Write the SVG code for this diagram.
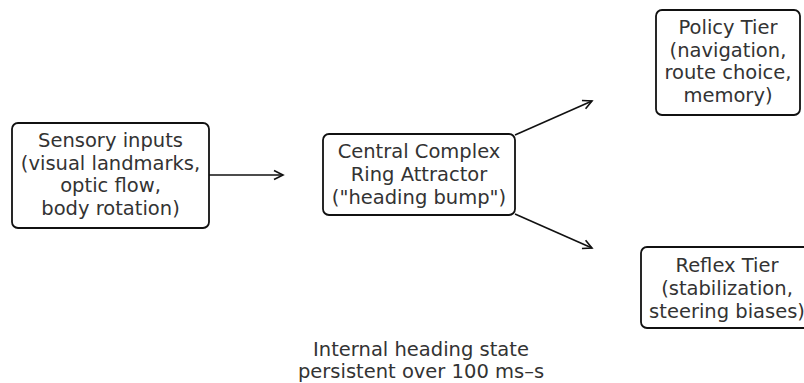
<svg xmlns="http://www.w3.org/2000/svg" width="804" height="383" viewBox="0 0 804 383">
<style>
.box{fill:#fff;stroke:#111;stroke-width:1.8}
.t{font-family:"DejaVu Sans",sans-serif;font-size:19.5px;fill:#333;text-anchor:middle}
.c{stroke:#111;stroke-width:1.6;fill:none}
</style>
<defs>
<marker id="ah" markerWidth="12" markerHeight="12" refX="10" refY="6" orient="auto" markerUnits="userSpaceOnUse">
<path d="M1,1.5 L10,6 L1,10.5" fill="none" stroke="#111" stroke-width="1.6"/>
</marker>
</defs>
<rect width="804" height="383" fill="#fff"/>
<g id="connectors">
<line class="c" x1="209" y1="175" x2="283" y2="175" marker-end="url(#ah)"/>
<line class="c" x1="515" y1="135" x2="592" y2="101" marker-end="url(#ah)"/>
<line class="c" x1="515" y1="214" x2="592" y2="248" marker-end="url(#ah)"/>
</g>
<g id="sensory">
<rect class="box" x="12" y="123" width="197" height="105" rx="6"/>
<text class="t" x="110.5" y="147">Sensory inputs</text>
<text class="t" x="110.5" y="169.5">(visual landmarks,</text>
<text class="t" x="110.5" y="192">optic flow,</text>
<text class="t" x="110.5" y="214.5">body rotation)</text>
</g>
<g id="central">
<rect class="box" x="323" y="134" width="192" height="81" rx="6"/>
<text class="t" x="419" y="158">Central Complex</text>
<text class="t" x="419" y="181">Ring Attractor</text>
<text class="t" x="419" y="204">("heading bump")</text>
</g>
<g id="policy">
<rect class="box" x="656" y="10" width="144" height="105" rx="6"/>
<text class="t" x="728" y="34">Policy Tier</text>
<text class="t" x="728" y="56.5">(navigation,</text>
<text class="t" x="728" y="79">route choice,</text>
<text class="t" x="728" y="101.5">memory)</text>
</g>
<g id="reflex">
<rect class="box" x="641" y="247" width="172" height="81" rx="6"/>
<text class="t" x="727" y="272">Reflex Tier</text>
<text class="t" x="727" y="295">(stabilization,</text>
<text class="t" x="727" y="317.5">steering biases)</text>
</g>
<g id="note">
<text class="t" x="421" y="356">Internal heading state</text>
<text class="t" x="421" y="378">persistent over 100 ms–s</text>
</g>
</svg>
